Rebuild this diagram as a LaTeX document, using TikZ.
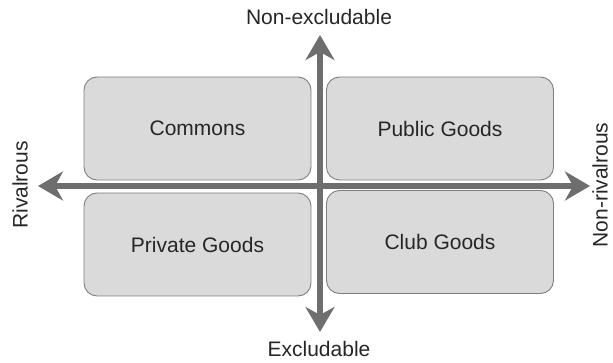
\documentclass[tikz,border=0pt]{standalone}
\usepackage{fontspec}
\setmainfont{Liberation Sans}
\usetikzlibrary{arrows.meta}
\definecolor{boxfill}{HTML}{DADADA}
\definecolor{boxline}{HTML}{7F7F7F}
\definecolor{axisgray}{HTML}{6E6E6E}
\definecolor{textgray}{HTML}{262626}
\begin{document}
\begin{tikzpicture}[x=1pt, y=-1pt,
        goodsbox/.style={draw=boxline, line width=0.9pt, fill=boxfill, rounded corners=13pt,
            minimum width=227pt, minimum height=103pt, text=textgray,
            font=\fontsize{21}{24}\selectfont},
        axislabel/.style={text=textgray, font=\fontsize{21}{24}\selectfont},
        axisline/.style={draw=axisgray, line width=5.5pt,
            {Stealth[length=25pt, width=29pt, inset=8pt]}-{Stealth[length=25pt, width=29pt, inset=8pt]}}]
        \useasboundingbox (0, 0) rectangle (613, 363);
        
        \node[goodsbox] (commons) at (197.5, 128.5) {Commons};
        \node[goodsbox] (public) at (440, 128.5) {Public Goods};
        \node[goodsbox] (private) at (197.5, 244.5) {Private Goods};
        \node[goodsbox] (club) at (440, 242) {Club Goods};
        
        \coordinate (rivend) at (38, 186);
        \coordinate (nonrivend) at (590, 186);
        \coordinate (nonexend) at (320, 35);
        \coordinate (exend) at (320, 332);
        \draw[axisline] (rivend) -- (nonrivend);
        \draw[axisline] (exend) -- (nonexend);
        
        \node[axislabel] (nonex) at (319, 17) {Non-excludable};
        \node[axislabel] (ex) at (319, 349) {Excludable};
        \node[axislabel, rotate=90] (riv) at (20, 185) {Rivalrous};
        \node[axislabel, rotate=90, inner sep=0pt] (nonriv) at (600, 185) {Non-rivalrous};
    \end{tikzpicture}
\end{document}
